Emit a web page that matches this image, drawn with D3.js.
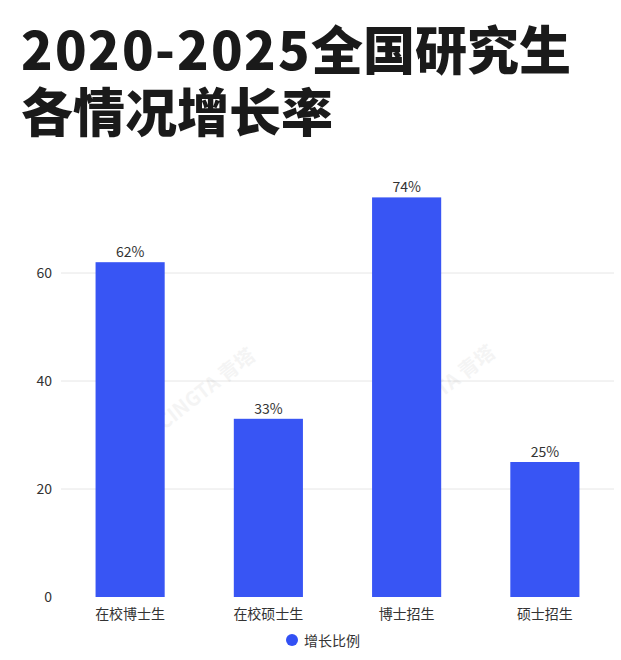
<!DOCTYPE html>
<html><head><meta charset="utf-8">
<script src="https://cdn.jsdelivr.net/npm/d3@7/dist/d3.min.js"></script>
<style>
@font-face{font-family:'TitleCJK';font-weight:900;
  src:local('Noto Sans CJK SC Black'),local('NotoSansCJKsc-Black'),local('Noto Sans CJK SC');
  ascent-override:88%;descent-override:12%;line-gap-override:0%;}
body{margin:0;background:#fff;}
#wrap{position:relative;width:621px;height:660px;}
svg{display:block;position:absolute;left:0;top:0;}
#title{position:absolute;left:21px;top:19px;font-family:'TitleCJK','Noto Sans CJK SC',sans-serif;
  font-weight:900;font-size:52px;line-height:62px;color:#1a1a1a;white-space:nowrap;}
#title .yr{letter-spacing:1.6px;}
</style>
</head><body>
<div id="wrap">
<svg id="c" width="621" height="660"></svg>
<div id="title"></div>
</div>
<script>
const titleYear = "2020-2025";
const titleLines = ["全国研究生", "各情况增长率"];
const categories = ["在校博士生", "在校硕士生", "博士招生", "硕士招生"];
const values = [62, 33, 74, 25];
const yTicks = [0, 20, 40, 60];
const seriesName = "增长比例";
const color = "#3250F4";

const title = d3.select("#title");
title.append("span").attr("class","yr").text(titleYear);
title.append("span").text(titleLines[0]);
title.append("br");
title.append("span").text(titleLines[1]);

const svg = d3.select("#c");
const font = "'Noto Sans CJK SC','Noto Sans',sans-serif";
const m = {left: 61, right: 7, top: 165, bottom: 63};
const W = 621, H = 660;

const x = d3.scaleBand().domain(categories).range([m.left, W - m.right])
  .paddingInner(0.5).paddingOuter(0.25);
const y = d3.scaleLinear().domain([0, 80]).range([H - m.bottom, m.top]);

// gridlines
svg.append("g").selectAll("line").data(yTicks.filter(t=>t>0)).join("line")
  .attr("x1", m.left).attr("x2", W - m.right)
  .attr("y1", d=>y(d)).attr("y2", d=>y(d))
  .attr("stroke", "#e6e6e6").attr("stroke-width", 1);

// y axis
const yAxis = svg.append("g").attr("transform", `translate(${m.left},0)`)
  .call(d3.axisLeft(y).tickValues(yTicks).tickSize(0).tickPadding(9));
yAxis.select(".domain").remove();
yAxis.selectAll("text").attr("font-family", font).attr("font-size", 14).attr("fill", "#333");

// watermark
[[207,390],[447,387]].forEach(p=>{
  svg.append("text").attr("transform", `translate(${p[0]},${p[1]}) rotate(-38)`)
    .attr("text-anchor","middle").attr("dominant-baseline","middle")
    .attr("font-family", font).attr("font-size", 20).attr("font-weight", 700)
    .attr("fill", "#000").attr("opacity", 0.04)
    .text("CINGTA 青塔");
});

// bars
svg.append("g").selectAll("rect").data(values).join("rect")
  .attr("x", (d,i)=>x(categories[i])).attr("width", x.bandwidth())
  .attr("y", d=>y(d)).attr("height", d=>y(0)-y(d))
  .attr("fill", color).attr("opacity", 0.97);

// value labels
svg.append("g").selectAll("text").data(values).join("text")
  .attr("x", (d,i)=>x(categories[i]) + x.bandwidth()/2)
  .attr("y", d=>y(d) - 5)
  .attr("text-anchor","middle")
  .attr("font-family", font).attr("font-size", 14).attr("fill", "#333")
  .text(d=>d + "%");

// x axis
const xAxis = svg.append("g").attr("transform", `translate(0,${y(0)})`)
  .call(d3.axisBottom(x).tickSize(0).tickPadding(12));
xAxis.select(".domain").remove();
xAxis.selectAll("text").attr("font-family", font).attr("font-size", 14).attr("fill", "#333");

// legend
const lg = svg.append("g").attr("transform", "translate(292,640)");
lg.append("circle").attr("r", 6).attr("fill", color);
lg.append("text").attr("x", 12).attr("y", 0).attr("dominant-baseline","central")
  .attr("font-family", font).attr("font-size", 14).attr("fill", "#333").text(seriesName);
</script>
</body></html>
